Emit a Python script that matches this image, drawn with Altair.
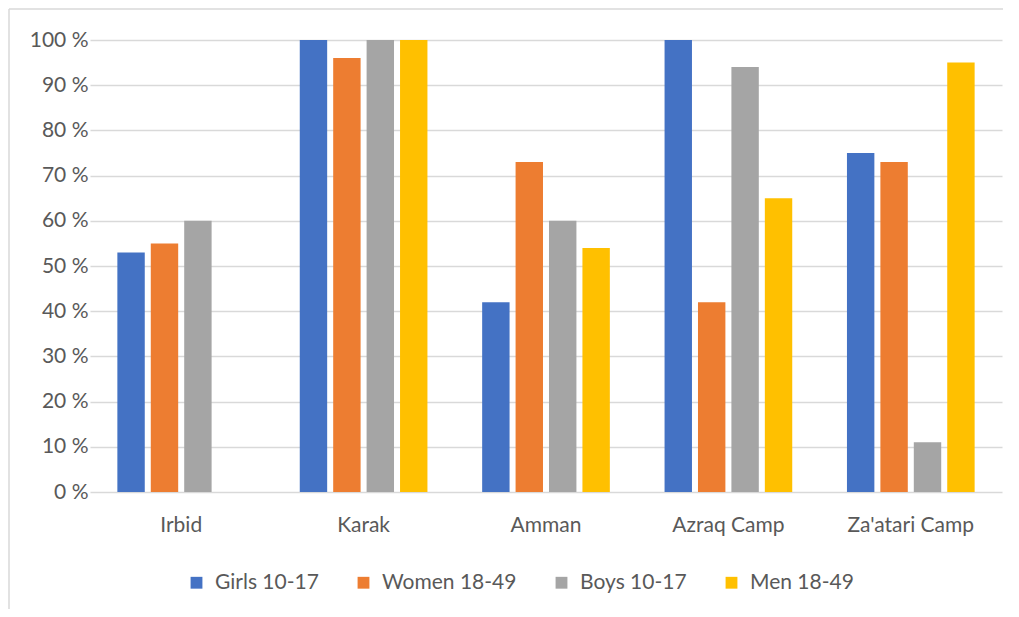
import altair as alt
import pandas as pd

locations = ["Irbid", "Karak", "Amman", "Azraq Camp", "Za'atari Camp"]
groups = ["Girls 10-17", "Women 18-49", "Boys 10-17", "Men 18-49"]
colors = ["#4472C4", "#ED7D31", "#A5A5A5", "#FFC000"]

girls = [53, 100, 42, 100, 75]
women = [55, 96, 73, 42, 73]
boys = [60, 100, 60, 94, 11]
men = [0, 100, 54, 65, 95]

rows = []
for g, vals in zip(groups, [girls, women, boys, men]):
    for loc, v in zip(locations, vals):
        rows.append({"Location": loc, "Group": g, "Value": v})
df = pd.DataFrame(rows)

FONT = "Lato"
GREY = "#595959"

bars = alt.Chart(df).mark_bar().encode(
    x=alt.X("Location:N", sort=locations, title=None,
            scale=alt.Scale(paddingInner=0.3, paddingOuter=0.15),
            axis=alt.Axis(labelAngle=0, ticks=False, domain=False, labelPadding=22,
                          labelFontSize=21, labelColor=GREY, labelFont=FONT)),
    xOffset=alt.XOffset("Group:N", sort=groups, scale=alt.Scale(paddingInner=0.18)),
    y=alt.Y("Value:Q", title=None,
            scale=alt.Scale(domain=[0, 100], nice=False),
            axis=alt.Axis(values=list(range(0, 101, 10)), labelExpr="datum.value + ' %'",
                          ticks=False, domain=False, labelPadding=2,
                          labelFontSize=21, labelColor=GREY, labelFont=FONT,
                          gridColor="#D9D9D9", gridWidth=1.5)),
    color=alt.Color("Group:N", sort=groups,
                    scale=alt.Scale(domain=groups, range=colors),
                    legend=alt.Legend(title=None, orient="none", direction="horizontal",
                                      legendX=96, legendY=532,
                                      symbolType="square", symbolSize=140,
                                      symbolStrokeWidth=0, labelFontSize=21,
                                      labelColor=GREY, labelFont=FONT,
                                      labelOffset=8, columnPadding=34)),
)

frame = pd.DataFrame({"k": [0]})
top_line = alt.Chart(frame).mark_rule(color="#D9D9D9", strokeWidth=1.5).encode(
    x=alt.value(-81), x2=alt.value(925), y=alt.value(-31))
left_line = alt.Chart(frame).mark_rule(color="#D9D9D9", strokeWidth=1.5).encode(
    x=alt.value(-81), y=alt.value(-31), y2=alt.value(600))

chart = alt.layer(top_line, left_line, bars).properties(
    width=912, height=452,
    padding={"left": 82, "top": 32, "right": 1, "bottom": 117},
    autosize=alt.AutoSizeParams(type="none"),
).configure_view(stroke=None)

chart.save("out.html", embed_options={"renderer": "svg", "actions": False})
